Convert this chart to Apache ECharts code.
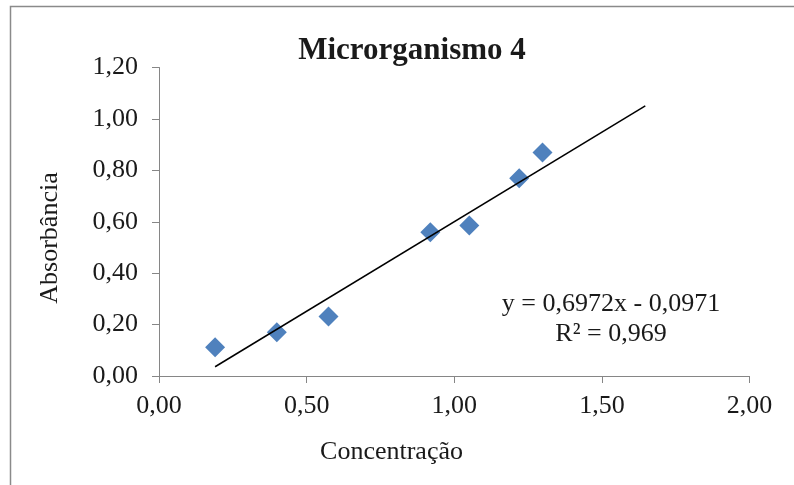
<!DOCTYPE html>
<html>
<head>
<meta charset="utf-8">
<script src="https://cdn.jsdelivr.net/npm/echarts@6/dist/echarts.min.js"></script>
<style>
html,body{margin:0;padding:0;background:#fff;}
#c{width:794px;height:485px;}
</style>
</head>
<body>
<div id="c"></div>
<script>
var chartTitle = 'Microrganismo 4';
var xName = 'Concentração';
var yName = 'Absorbância';
var concentracao = [0.190, 0.399, 0.574, 0.919, 1.051, 1.220, 1.299];
var absorbancia  = [0.112, 0.170, 0.231, 0.559, 0.585, 0.769, 0.869];
var trendX = [0.19, 1.647];
var trendY = [0.036, 1.051];
var equationText = 'y = 0,6972x - 0,0971';
var r2Text = 'R² = 0,969';
var xTicks = [0, 0.5, 1.0, 1.5, 2.0];
var yTicks = [0, 0.2, 0.4, 0.6, 0.8, 1.0, 1.2];

var FONT = '"Liberation Serif","Times New Roman",serif';
function fmt(v){ return v.toFixed(2).replace('.', ','); }

var points = concentracao.map(function(x,i){ return [x, absorbancia[i]]; });
var trend = trendX.map(function(x,i){ return [x, trendY[i]]; });

var chart = echarts.init(document.getElementById('c'), null, {renderer:'canvas'});
chart.setOption({
  animation: false,
  backgroundColor: '#ffffff',
  title: {
    text: chartTitle,
    left: 407, top: 30, textAlign: 'center',
    textStyle: {fontFamily: FONT, fontSize: 31, fontWeight: 'bold', color: '#1a1a1a'}
  },
  grid: {left: 159, right: 44.5, top: 67.5, bottom: 109},
  xAxis: {
    type: 'value', min: xTicks[0], max: xTicks[xTicks.length-1], interval: 0.5,
    axisLine: {show: true, lineStyle: {color: '#868686', width: 1}},
    axisTick: {show: true, length: 7, lineStyle: {color: '#868686'}},
    splitLine: {show: false},
    axisLabel: {margin: 17, fontFamily: FONT, fontSize: 26, color: '#1a1a1a', formatter: fmt}
  },
  yAxis: {
    type: 'value', min: yTicks[0], max: yTicks[yTicks.length-1], interval: 0.2,
    axisLine: {show: true, lineStyle: {color: '#868686', width: 1}},
    axisTick: {show: true, length: 7, lineStyle: {color: '#868686'}},
    splitLine: {show: false},
    axisLabel: {margin: 21, fontFamily: FONT, fontSize: 26, color: '#1a1a1a', formatter: fmt}
  },
  series: [
    {
      type: 'line', data: trend, symbol: 'none', silent: true,
      lineStyle: {color: '#000000', width: 1.5}, z: 3
    },
    {
      type: 'scatter', data: points, symbol: 'diamond', symbolSize: 20,
      itemStyle: {color: '#4F81BD', opacity: 1}, z: 2
    }
  ],
  graphic: [
    {type: 'rect', shape: {x: 10.5, y: 6.5, width: 800, height: 500},
     style: {fill: 'none', stroke: '#8a8a8a', lineWidth: 1.5}, silent: true},
    {type: 'text', x: 50, y: 238, rotation: Math.PI/2,
     style: {text: yName, fontFamily: FONT, fontSize: 26, fill: '#1a1a1a', align: 'center', verticalAlign: 'middle'}},
    {type: 'text', x: 391.5, y: 452,
     style: {text: xName, fontFamily: FONT, fontSize: 26, fill: '#1a1a1a', align: 'center', verticalAlign: 'middle'}},
    {type: 'text', x: 611, y: 304,
     style: {text: equationText, fontFamily: FONT, fontSize: 26, fill: '#1a1a1a', align: 'center', verticalAlign: 'middle'}},
    {type: 'text', x: 611, y: 334,
     style: {text: r2Text, fontFamily: FONT, fontSize: 26, fill: '#1a1a1a', align: 'center', verticalAlign: 'middle'}}
  ]
});
</script>
</body>
</html>
